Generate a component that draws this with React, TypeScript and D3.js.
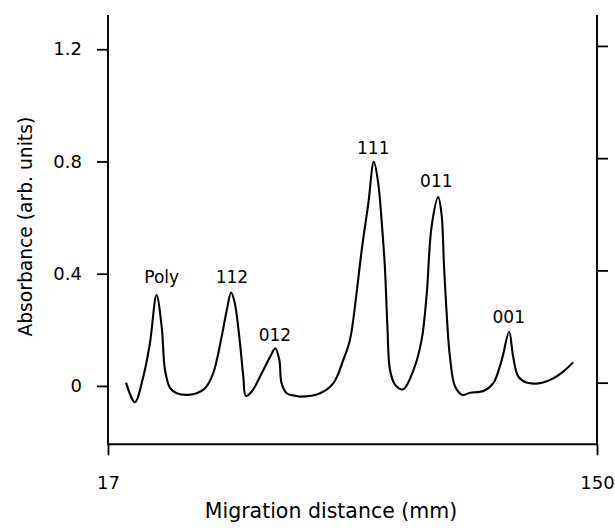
import React, { useEffect, useRef } from 'react';
import * as d3 from 'd3';

// trace: migration distance (mm) vs absorbance
const distance = [
  21.9, 24.3, 26.6, 28.4, 30.2, 31.6, 32.5, 33.9, 35.7, 38.4, 41.1, 43.4, 45.6, 47.9, 49.3, 50.5,
  51.5, 52.9, 53.8, 54.5, 56.1, 58.8, 61.1, 62.5, 63.6, 64.2, 65.6, 68.3, 69.2, 74.7, 78.3, 81.0,
  82.8, 84.6, 86.0, 87.8, 89.3, 90.5, 91.4, 92.3, 93.0, 93.7, 95.1, 97.3, 100.1, 102.3, 103.7,
  105.0, 106.8, 107.7, 108.4, 108.9, 110.0, 111.4, 113.4, 115.5, 119.1, 121.8, 124.1, 126.1,
  127.2, 128.6, 130.8, 134.5, 138.1, 140.8, 143.5,
];
const absorbance = [
  0.012, -0.058, 0.033, 0.152, 0.324, 0.211, 0.057, -0.008, -0.026, -0.032, -0.026, -0.008, 0.045,
  0.175, 0.27, 0.333, 0.294, 0.152, 0.033, -0.036, -0.02, 0.045, 0.104, 0.134, 0.093, 0.01, -0.026,
  -0.036, -0.038, -0.026, 0.01, 0.093, 0.164, 0.33, 0.484, 0.65, 0.799, 0.722, 0.592, 0.425, 0.211,
  0.057, 0.004, -0.012, 0.057, 0.164, 0.33, 0.567, 0.673, 0.614, 0.425, 0.306, 0.104, -0.002,
  -0.032, -0.024, -0.018, 0.01, 0.093, 0.193, 0.104, 0.033, 0.012, 0.01, 0.027, 0.051, 0.084,
];

const peakNames = ['Poly', '112', '012', '111', '011', '001'];
const peakLabelX = [31.6, 50.7, 62.4, 89.15, 106.3, 126.0];
const peakLabelY = [0.366, 0.366, 0.16, 0.828, 0.709, 0.226];

const xTicks = [17, 150];
const yTicks = [0, 0.4, 0.8, 1.2];

const FONT = '"DejaVu Sans", sans-serif';

const App = () => {
  const ref = useRef<SVGSVGElement>(null);

  useEffect(() => {
    const svg = d3.select(ref.current);
    svg.selectAll('*').remove();

    const left = 108, right = 597, top = 15, bottom = 444.3;

    const x = d3.scaleLinear().domain([17, 150]).range([left, right]);
    const y = d3.scaleLinear().domain([-0.208, 1.322]).range([bottom, top]);

    const fmt = (d: number) => (d === 0 ? '0' : d.toFixed(1));

    // left axis
    const gy = svg.append('g')
      .attr('transform', `translate(${left},0)`)
      .call(d3.axisLeft(y).tickValues(yTicks).tickFormat(fmt as any).tickSize(11).tickSizeOuter(0).tickPadding(15));
    gy.select('.domain').remove();
    gy.selectAll('line').attr('stroke-width', 1.8);
    gy.selectAll('text').style('font-family', FONT).style('font-size', '18px').attr('fill', '#000');

    // right axis (ticks only, sits a touch higher in the original)
    const gr = svg.append('g')
      .attr('transform', `translate(${right},-3.3)`)
      .call(d3.axisRight(y).tickValues(yTicks).tickFormat(() => '').tickSize(11).tickSizeOuter(0));
    gr.select('.domain').remove();
    gr.selectAll('line').attr('stroke-width', 1.8);

    // bottom axis
    const gx = svg.append('g')
      .attr('transform', `translate(0,${bottom})`)
      .call(d3.axisBottom(x).tickValues(xTicks).tickFormat(d3.format('d') as any).tickSize(11).tickSizeOuter(0).tickPadding(21));
    gx.select('.domain').remove();
    gx.selectAll('line').attr('stroke-width', 1.8);
    gx.selectAll('text').style('font-family', FONT).style('font-size', '18px').attr('fill', '#000');

    // frame: left, bottom, right
    svg.append('path')
      .attr('d', `M${left},${top}V${bottom}H${right}V${top}`)
      .attr('fill', 'none')
      .attr('stroke', '#000')
      .attr('stroke-width', 1.9);

    // trace
    const pts = distance.map((d, i) => [d, absorbance[i]] as [number, number]);
    const line = d3.line<[number, number]>()
      .x((d) => x(d[0]))
      .y((d) => y(d[1]))
      .curve(d3.curveCatmullRom.alpha(0.5));
    svg.append('path')
      .datum(pts)
      .attr('d', line)
      .attr('fill', 'none')
      .attr('stroke', '#000')
      .attr('stroke-width', 2.1)
      .attr('stroke-linejoin', 'round');

    // peak labels
    svg.append('g')
      .selectAll('text')
      .data(peakNames)
      .join('text')
      .attr('x', (d, i) => x(peakLabelX[i]))
      .attr('y', (d, i) => y(peakLabelY[i]))
      .attr('text-anchor', 'middle')
      .style('font-family', FONT)
      .style('font-size', '17px')
      .attr('fill', '#000')
      .text((d) => d);

    // axis titles
    svg.append('text')
      .attr('x', 331)
      .attr('y', 517.5)
      .attr('text-anchor', 'middle')
      .style('font-family', FONT)
      .style('font-size', '20.5px')
      .text('Migration distance (mm)');

    svg.append('text')
      .attr('transform', 'translate(32,226.7) rotate(-90)')
      .attr('text-anchor', 'middle')
      .style('font-family', FONT)
      .style('font-size', '18.7px')
      .text('Absorbance (arb. units)');
  }, []);

  return (
    <svg
      ref={ref}
      width={615}
      height={529}
      style={{ position: 'absolute', left: 0, top: 0, background: '#fff' }}
    />
  );
};

export default App;
